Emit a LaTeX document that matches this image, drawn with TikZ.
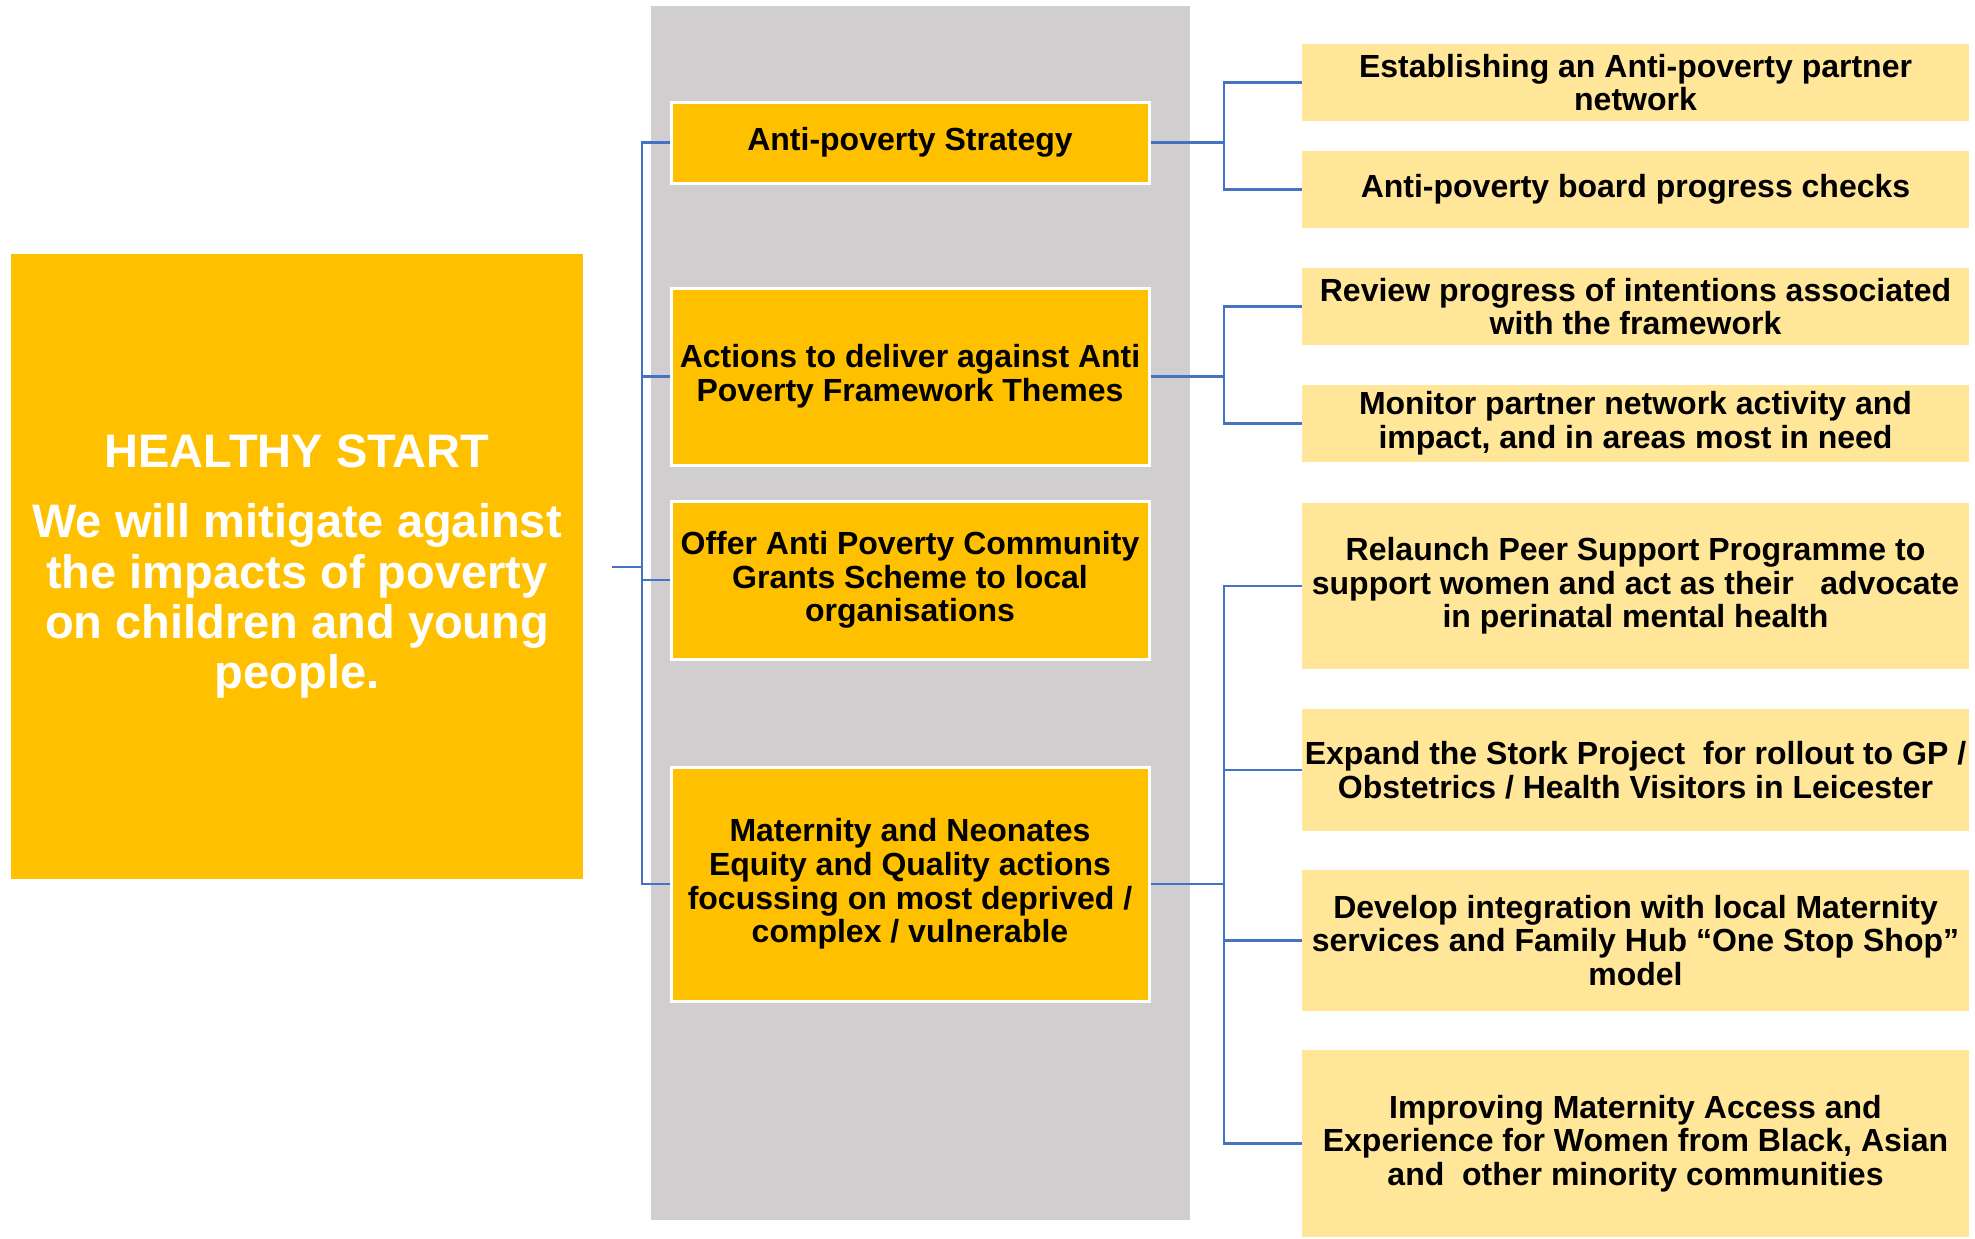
\documentclass[tikz,border=0pt]{standalone}
\usepackage{fontspec}
\setmainfont{Liberation Sans}
\definecolor{gold}{HTML}{FFC000}
\definecolor{lightgold}{HTML}{FFE699}
\definecolor{colgray}{HTML}{D0CECE}
\definecolor{connblue}{HTML}{4472C4}
\begin{document}
\begin{tikzpicture}[x=0.5pt,y=-0.5pt,
  midbox/.style={fill=gold, draw=white, line width=1.5pt, inner sep=0pt, align=center,
    minimum width=239pt,
    font=\fontsize{16}{16.8}\selectfont\bfseries},
  rightbox/.style={fill=lightgold, draw=none, inner sep=0pt, align=center,
    minimum width=333.5pt,
    font=\fontsize{16}{16.8}\selectfont\bfseries},
  bigbox/.style={fill=gold, draw=none, inner sep=0pt, align=center, text=white,
    minimum width=286pt, minimum height=312.5pt,
    font=\fontsize{23.5}{25.2}\selectfont\bfseries},
  conn/.style={draw=connblue, line width=1.3pt}]
\useasboundingbox (0,0) rectangle (1975,1238);
\fill[white] (0,0) rectangle (1975,1238);
% gray column
\fill[colgray] (651,6) rectangle (1190,1220);
% left big box
\node[bigbox] (L) at (297,566.5) {HEALTHY START\\[10pt]We will mitigate against\\the impacts of poverty\\on children and young\\people.};
% middle boxes
\node[midbox, minimum height=40.5pt] (M1) at (910,142.5) {Anti-poverty Strategy};
\node[midbox, minimum height=88.5pt] (M2) at (910,376.5) {Actions to deliver against Anti\\Poverty Framework Themes};
\node[midbox, minimum height=79pt] (M3) at (910,580) {Offer Anti Poverty Community\\Grants Scheme to local\\organisations};
\node[midbox, minimum height=117pt] (M4) at (910,884) {Maternity and Neonates\\Equity and Quality actions\\focussing on most deprived /\\complex / vulnerable};
% right boxes
\node[rightbox, minimum height=38.5pt] (R1) at (1635.5,82.5) {Establishing an Anti-poverty partner\\network};
\node[rightbox, minimum height=38.5pt] (R2) at (1635.5,189.5) {Anti-poverty board progress checks};
\node[rightbox, minimum height=38.5pt] (R3) at (1635.5,306.5) {Review progress of intentions associated\\with the framework};
\node[rightbox, minimum height=38.5pt] (R4) at (1635.5,423.5) {Monitor partner network activity and\\impact, and in areas most in need};
\node[rightbox, minimum height=83pt] (R5) at (1635.5,586) {Relaunch Peer Support Programme to\\support women and act as their\ \ \ advocate\\in perinatal mental health};
\node[rightbox, minimum height=61pt] (R6) at (1635.5,770) {Expand the Stork Project\ \ for rollout to GP /\\Obstetrics / Health Visitors in Leicester};
\node[rightbox, minimum height=70.5pt] (R7) at (1635.5,940.5) {Develop integration with local Maternity\\services and Family Hub “One Stop Shop”\\model};
\node[rightbox, minimum height=93.5pt] (R8) at (1635.5,1143.5) {Improving Maternity Access and\\Experience for Women from Black, Asian\\and\ \ other minority communities};
% connector coordinates
\coordinate (hs) at (612,567);
\coordinate (lt) at (642,567);
\coordinate (rt) at (1224,0);
% left tree
\draw[conn] (hs) -- (lt);
\draw[conn] (M1.west) -- (M1.west -| lt) -- (M4.west -| lt) -- (M4.west);
\draw[conn] (M2.west) -- (M2.west -| lt);
\draw[conn] (M3.west) -- (M3.west -| lt);
% right trees
\draw[conn] (M1.east) -- (M1.east -| rt);
\draw[conn] (R1.west) -- (R1.west -| rt) -- (R2.west -| rt) -- (R2.west);
\draw[conn] (M2.east) -- (M2.east -| rt);
\draw[conn] (R3.west) -- (R3.west -| rt) -- (R4.west -| rt) -- (R4.west);
\draw[conn] (M4.east) -- (M4.east -| rt);
\draw[conn] (R5.west) -- (R5.west -| rt) -- (R8.west -| rt) -- (R8.west);
\draw[conn] (R6.west) -- (R6.west -| rt);
\draw[conn] (R7.west) -- (R7.west -| rt);
\end{tikzpicture}
\end{document}
